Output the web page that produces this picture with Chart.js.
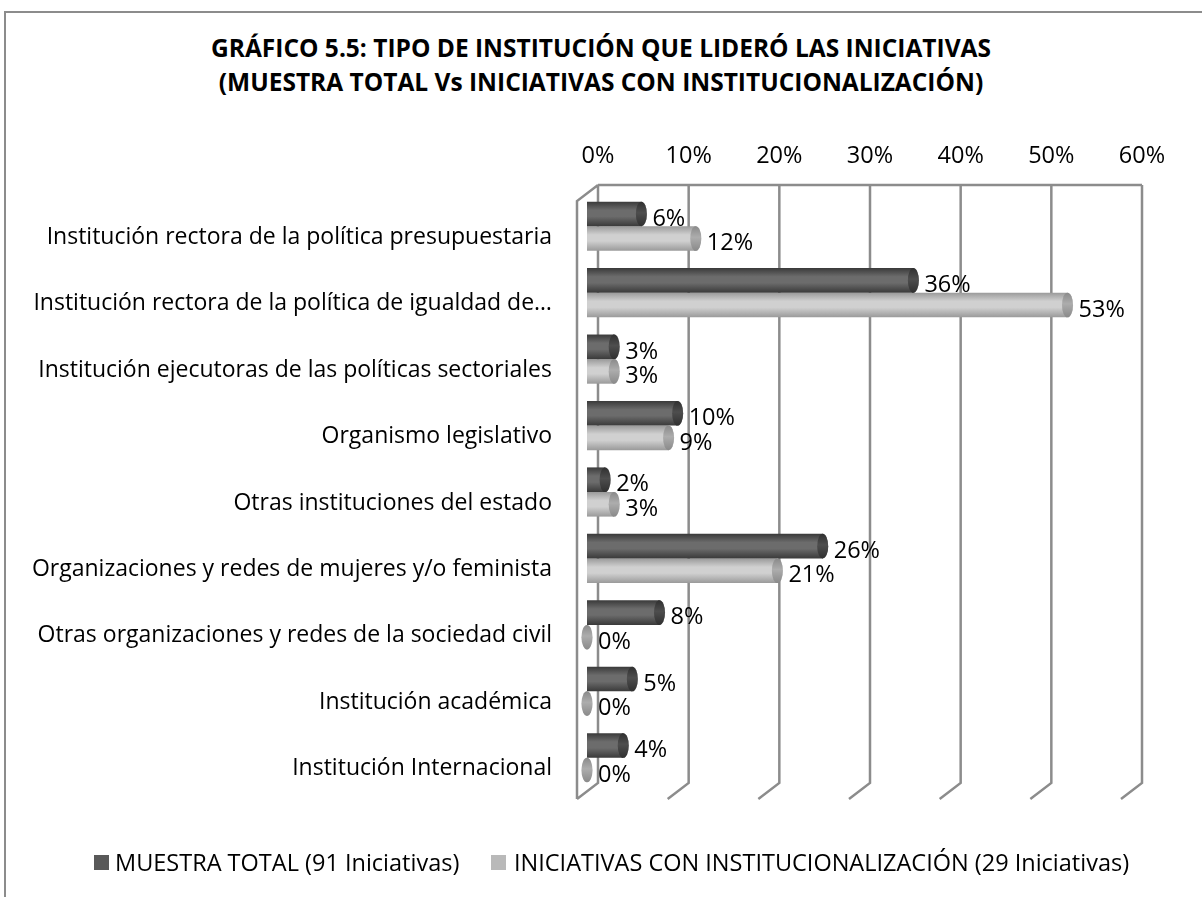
<!DOCTYPE html>
<html>
<head>
<meta charset="utf-8">
<script src="https://cdn.jsdelivr.net/npm/chart.js@4.4.1/dist/chart.umd.min.js"></script>
<style>
  html, body { margin: 0; padding: 0; background: #fff; overflow: hidden; }
  #wrap { position: relative; width: 1202px; height: 897px; font-family: "Open Sans", Lato, sans-serif; }
  #frame { position: absolute; left: 4px; top: 11px; width: 1300px; height: 1000px;
           border-left: 2px solid #8c8c8c; border-top: 2px solid #8c8c8c; }
  #title { position: absolute; left: 0; top: 31px; width: 1202px; text-align: center;
           font-weight: bold; font-size: 24.5px; line-height: 34px; color: #000; }
  #chart { position: absolute; left: 0; top: 0; }
  .leg { position: absolute; top: 846px; font-size: 23.5px; line-height: 32px; color: #000; white-space: nowrap; }
  .sw { position: absolute; top: 855px; width: 15px; height: 15px; }
</style>
</head>
<body>
<div id="wrap">
  <div id="frame"></div>
  <div id="title">GRÁFICO 5.5: TIPO DE INSTITUCIÓN QUE LIDERÓ LAS INICIATIVAS<br>(MUESTRA TOTAL Vs INICIATIVAS CON INSTITUCIONALIZACIÓN)</div>
  <canvas id="chart" width="1202" height="897"></canvas>
  <div class="sw" style="left:94px;background:#595959"></div>
  <div class="leg" style="left:115px">MUESTRA TOTAL (91 Iniciativas)</div>
  <div class="sw" style="left:491px;background:#b9b9b9"></div>
  <div class="leg" style="left:514px">INICIATIVAS CON INSTITUCIONALIZACIÓN (29 Iniciativas)</div>
</div>
<script>
// Categories and values (percent)
const categories = [
    'Institución rectora de la política presupuestaria',
    'Institución rectora de la política de igualdad de…',
    'Institución ejecutoras de las políticas sectoriales',
    'Organismo legislativo',
    'Otras instituciones del estado',
    'Organizaciones y redes de mujeres y/o feminista',
    'Otras organizaciones y redes de la sociedad civil',
    'Institución académica',
    'Institución Internacional'
];
const muestraTotal = [6, 36, 3, 10, 2, 26, 8, 5, 4];
const conInstitucionalizacion = [12, 53, 3, 9, 3, 21, 0, 0, 0];
const xMin = 0;
const xMax = 60;
const xStep = 10;

const FONT = '"Open Sans", Lato, sans-serif';
const FONT_SIZE = 23.5;
// 3D depth offsets (back wall / front edge) relative to the bar plane
const BACK = { dx: 11, dy: -8 };
const FRONT = { dx: -10, dy: 8 };

const shades = [
    { edge: '#3a3a3a', light: '#6c6c6c', cap: '#303030' },
    { edge: '#9a9a9a', light: '#d0d0d0', cap: '#8a8a8a' }
];

function barGradient(ctx) {
    const chart = ctx.chart;
    const y = chart.scales.y;
    const s = shades[ctx.datasetIndex];
    if (!y || ctx.type !== 'data') return s.light;
    const band = (y.bottom - y.top) / categories.length;
    const h = band * 0.74 / 2;
    const c = y.getPixelForValue(ctx.dataIndex);
    const top = ctx.datasetIndex === 0 ? c - h : c;
    if (!Number.isFinite(top) || !Number.isFinite(h) || h <= 0) return s.light;
    const g = chart.ctx.createLinearGradient(0, top, 0, top + h);
    g.addColorStop(0, s.edge);
    g.addColorStop(0.35, s.light);
    g.addColorStop(0.6, s.light);
    g.addColorStop(1, s.edge);
    return g;
}

const wallsPlugin = {
    id: 'walls',
    beforeDatasetsDraw(chart) {
        const { ctx, chartArea, scales } = chart;
        const x = scales.x;
        const bt = chartArea.top + BACK.dy, bb = chartArea.bottom + BACK.dy;
        const ft = chartArea.top + FRONT.dy, fb = chartArea.bottom + FRONT.dy;
        ctx.save();
        ctx.strokeStyle = '#8c8c8c';
        ctx.lineWidth = 2.5;
        ctx.beginPath();
        // back top edge
        ctx.moveTo(x.getPixelForValue(xMin) + BACK.dx, bt);
        ctx.lineTo(x.getPixelForValue(xMax) + BACK.dx, bt);
        // left wall
        ctx.moveTo(x.getPixelForValue(xMin) + FRONT.dx, fb);
        ctx.lineTo(x.getPixelForValue(xMin) + FRONT.dx, ft);
        ctx.lineTo(x.getPixelForValue(xMin) + BACK.dx, bt);
        for (let v = xMin; v <= xMax; v += xStep) {
            const px = x.getPixelForValue(v);
            ctx.moveTo(px + BACK.dx, bt);
            ctx.lineTo(px + BACK.dx, bb);
            ctx.lineTo(px + FRONT.dx, fb);
        }
        ctx.stroke();
        ctx.restore();
    },
    afterDatasetsDraw(chart) {
        const ctx = chart.ctx;
        ctx.save();
        chart.data.datasets.forEach((ds, di) => {
            const meta = chart.getDatasetMeta(di);
            meta.data.forEach((el, i) => {
                const h = el.height;
                const s = shades[di];
                // cylinder end cap
                const g = ctx.createLinearGradient(0, el.y - h / 2, 0, el.y + h / 2);
                g.addColorStop(0, s.cap);
                g.addColorStop(0.45, s.light);
                g.addColorStop(1, s.cap);
                ctx.fillStyle = g;
                ctx.beginPath();
                ctx.ellipse(el.x, el.y, 5.5, h / 2, 0, 0, Math.PI * 2);
                ctx.fill();
                ctx.fillStyle = s.cap;
                ctx.globalAlpha = 0.5;
                ctx.fill();
                ctx.globalAlpha = 1;
                // value label
                ctx.fillStyle = '#000';
                ctx.font = FONT_SIZE + 'px ' + FONT;
                ctx.textAlign = 'left';
                ctx.textBaseline = 'middle';
                ctx.fillText(ds.data[i] + '%', el.x + 11, el.y + 5);
            });
        });
        ctx.restore();
    }
};

const chart = new Chart(document.getElementById('chart'), {
    type: 'bar',
    data: {
        labels: categories,
        datasets: [
            { label: 'MUESTRA TOTAL (91 Iniciativas)', data: muestraTotal, backgroundColor: barGradient },
            { label: 'INICIATIVAS CON INSTITUCIONALIZACIÓN (29 Iniciativas)', data: conInstitucionalizacion, backgroundColor: barGradient }
        ]
    },
    options: {
        indexAxis: 'y',
        responsive: false,
        animation: false,
        layout: { padding: { top: 0, right: 71, bottom: 106, left: 0 } },
        datasets: {
            bar: { categoryPercentage: 0.74, barPercentage: 1.0, borderWidth: 0 }
        },
        plugins: {
            colors: { enabled: false },
            legend: { display: false },
            tooltip: { enabled: false },
            title: { display: false }
        },
        scales: {
            x: {
                position: 'top',
                min: xMin,
                max: xMax,
                grid: { display: false, drawTicks: false },
                border: { display: false },
                ticks: {
                    stepSize: xStep,
                    padding: 23,
                    labelOffset: BACK.dx,
                    color: '#000',
                    font: { family: FONT, size: FONT_SIZE },
                    callback: v => v + '%'
                },
                afterFit: s => { s.height = 193; }
            },
            y: {
                grid: { display: false, drawTicks: false },
                border: { display: false },
                ticks: {
                    padding: 35,
                    labelOffset: 11,
                    color: '#000',
                    font: { family: FONT, size: 23 }
                },
                afterFit: s => { s.width = 587; }
            }
        }
    },
    plugins: [wallsPlugin]
});
</script>
</body>
</html>
